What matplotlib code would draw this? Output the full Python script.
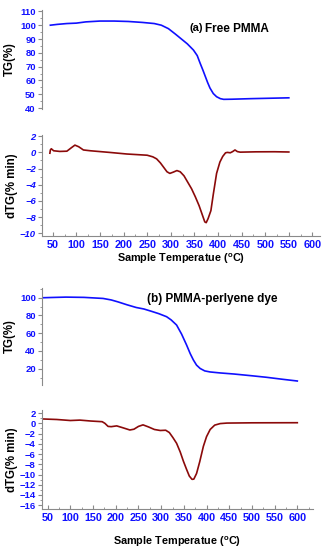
"""
tga_pmma.py — courbes TG / dTG : PMMA libre vs PMMA-perylène
"""

import matplotlib
matplotlib.use("Agg")
import matplotlib.pyplot as plt
from matplotlib.ticker import MultipleLocator

plt.rcParams["font.family"] = ["Liberation Sans", "DejaVu Sans"]
plt.rcParams["font.weight"] = "bold"
plt.rcParams["mathtext.default"] = "regular"

# ── Données ──────────────────────────────────────────────────────────────────

# (a) PMMA libre — TG
a_tg_T = [45, 60, 80, 100, 120, 150, 180, 210, 240, 265, 280, 295, 310, 320,
          335, 348, 356, 362, 368, 373, 378, 383, 390, 397, 405, 412, 430, 470,
          510, 550]
a_tg_V = [100.0, 100.6, 101.2, 101.5, 102.4, 103.0, 103.0, 102.7, 102.0, 101.2,
          100.0, 97.5, 93.5, 90.7, 86.5, 82.0, 78.0, 72.6, 67.5, 63.0, 58.5,
          54.5, 50.5, 48.2, 46.8, 46.3, 46.4, 46.8, 47.1, 47.4]

# (a) PMMA libre — dTG
a_dtg_T = [44, 45, 47, 52, 65, 80, 90, 97, 105, 115, 130, 170, 207, 250, 262,
           270, 278, 285, 292, 298, 305, 313, 320, 328, 336, 344, 352, 360, 366,
           372, 375, 379, 385, 390, 397, 404, 410, 416, 420, 426, 431, 436, 441,
           447, 480, 520, 550]
a_dtg_V = [-0.1, 0.3, 0.45, 0.2, 0.12, 0.15, 0.6, 0.9, 0.7, 0.3, 0.2, 0.0, -0.2,
           -0.35, -0.55, -0.8, -1.3, -1.85, -2.4, -2.6, -2.45, -2.25, -2.4, -2.9,
           -3.7, -4.5, -5.5, -6.6, -7.6, -8.6, -8.7, -8.2, -7.2, -5.2, -2.6, -1.2,
           -0.5, -0.05, 0.0, -0.05, 0.1, 0.3, 0.1, 0.03, 0.07, 0.08, 0.05]

# (b) PMMA-perylène — TG
b_tg_T = [40, 60, 90, 130, 172, 190, 205, 225, 245, 262, 278, 295, 312, 322,
          334, 345, 356, 364, 371, 378, 386, 396, 408, 430, 460, 500, 532, 565,
          600]
b_tg_V = [100.0, 100.3, 100.7, 100.4, 99.2, 97.5, 95.3, 92.0, 89.0, 87.3, 84.8,
          82.0, 78.6, 75.0, 69.2, 59.0, 46.7, 37.0, 29.8, 24.0, 20.2, 17.5, 16.3,
          15.2, 14.0, 12.0, 10.3, 8.2, 6.1]

# (b) PMMA-perylène — dTG
b_dtg_T = [40, 70, 100, 121, 145, 170, 176, 183, 190, 202, 215, 231, 240, 250,
           260, 272, 285, 298, 310, 318, 326, 334, 342, 349, 356, 362, 368, 372,
           378, 385, 393, 400, 408, 418, 430, 445, 500, 600]
b_dtg_V = [0.85, 0.75, 0.55, 0.63, 0.45, 0.32, 0.0, -0.6, -0.65, -0.5, -0.85,
           -1.3, -1.15, -0.6, -0.3, -0.7, -1.2, -1.4, -1.35, -1.8, -2.8, -3.9,
           -5.6, -7.4, -9.0, -10.3, -10.95, -10.9, -9.8, -7.5, -4.5, -2.6, -1.2,
           -0.35, -0.05, 0.05, 0.1, 0.12]

x_ticks = [50, 100, 150, 200, 250, 300, 350, 400, 450, 500, 550, 600]

# ── Style ────────────────────────────────────────────────────────────────────

BLUE, RED, GREY = "#1010ff", "#8b0a0a", "#8a8a8a"
XLABEL = "Sample Temperatue ($^{o}$C)"
FW, FH = 325, 550


def px(x, y):
    """pixels (origine haut-gauche) -> coordonnées figure."""
    return x / FW, 1 - y / FH


def style(ax, bottom=True, italic=False):
    for s in ("top", "right"):
        ax.spines[s].set_visible(False)
    ax.spines["left"].set_color(GREY)
    ax.spines["bottom"].set_color(GREY)
    ax.spines["bottom"].set_visible(bottom)
    ax.tick_params(axis="y", which="both", direction="out", colors=GREY,
                   labelcolor=BLUE, labelsize=6.8, pad=1.5)
    ax.tick_params(axis="y", which="major", length=3)
    ax.tick_params(axis="y", which="minor", length=1.8)
    for lb in ax.get_yticklabels():
        lb.set_fontweight("bold")
        if italic:
            lb.set_fontstyle("italic")
    if bottom:
        ax.tick_params(axis="x", which="both", direction="in", colors=GREY,
                       labelcolor=BLUE, labelsize=7.8, pad=3)
        ax.tick_params(axis="x", which="major", length=3)
        ax.tick_params(axis="x", which="minor", length=1.8)
        ax.set_xticks(x_ticks)
        ax.xaxis.set_minor_locator(MultipleLocator(25))
        for lb in ax.get_xticklabels():
            lb.set_fontweight("bold")
    else:
        ax.set_xticks([])


fig = plt.figure(figsize=(FW / 100, FH / 100), dpi=100)
L, W = 42 / FW, 278 / FW

# ── (a) PMMA libre ───────────────────────────────────────────────────────────

ax1 = fig.add_axes([L, 0.8018, W, 0.18])
ax1.plot(a_tg_T, a_tg_V, color=BLUE, lw=1.2)
ax1.set_xlim(27.3, 616)
ax1.set_ylim(39.3, 111)
ax1.set_yticks(range(40, 111, 10))
ax1.yaxis.set_minor_locator(MultipleLocator(5))
style(ax1, bottom=False)
ax1.set_ylabel("TG(%)", fontsize=8.3, fontweight="bold", labelpad=3)
fig.text(*px(189, 28), "(a)", fontsize=8, fontweight="bold", va="center")
fig.text(*px(205, 29), "Free PMMA", fontsize=8.5, fontweight="bold", va="center")

ax2 = fig.add_axes([L, 0.5709, W, 0.1836])
ax2.plot(a_dtg_T, a_dtg_V, color=RED, lw=1.2)
ax2.set_xlim(27.3, 616)
ax2.set_ylim(-10.35, 2.15)
ax2.set_yticks(range(-10, 3, 2))
ax2.yaxis.set_minor_locator(MultipleLocator(1))
style(ax2, italic=True)
ax2.set_ylabel("dTG(% min)", fontsize=8.3, fontweight="bold", labelpad=1)
ax2.set_xlabel(XLABEL, fontsize=7.8, fontweight="bold", labelpad=1)

# ── (b) PMMA-perylène ────────────────────────────────────────────────────────

ax3 = fig.add_axes([L, 0.30, W - 7 / FW, 0.1764])
ax3.plot(b_tg_T, b_tg_V, color=BLUE, lw=1.2)
ax3.set_xlim(37.4, 634.6)
ax3.set_ylim(1.6, 111)
ax3.set_yticks(range(20, 101, 20))
ax3.yaxis.set_minor_locator(MultipleLocator(10))
style(ax3, bottom=False)
ax3.set_ylabel("TG(%)", fontsize=8.3, fontweight="bold", labelpad=3)
fig.text(*px(212, 299), "(b) PMMA-perlyene dye", fontsize=8.5,
         fontweight="bold", va="center", ha="center")

ax4 = fig.add_axes([L, 0.074, W - 7 / FW, 0.1805])
ax4.plot(b_dtg_T, b_dtg_V, color=RED, lw=1.2)
ax4.set_xlim(37.4, 634.6)
ax4.set_ylim(-16.8, 2.6)
ax4.set_yticks(range(-16, 3, 2))
ax4.yaxis.set_minor_locator(MultipleLocator(1))
style(ax4)
ax4.set_ylabel("dTG(% min)", fontsize=8.3, fontweight="bold", labelpad=1)
ax4.set_xlabel(XLABEL, fontsize=7.8, fontweight="bold", labelpad=8)

fig.savefig("out.png", dpi=100)
